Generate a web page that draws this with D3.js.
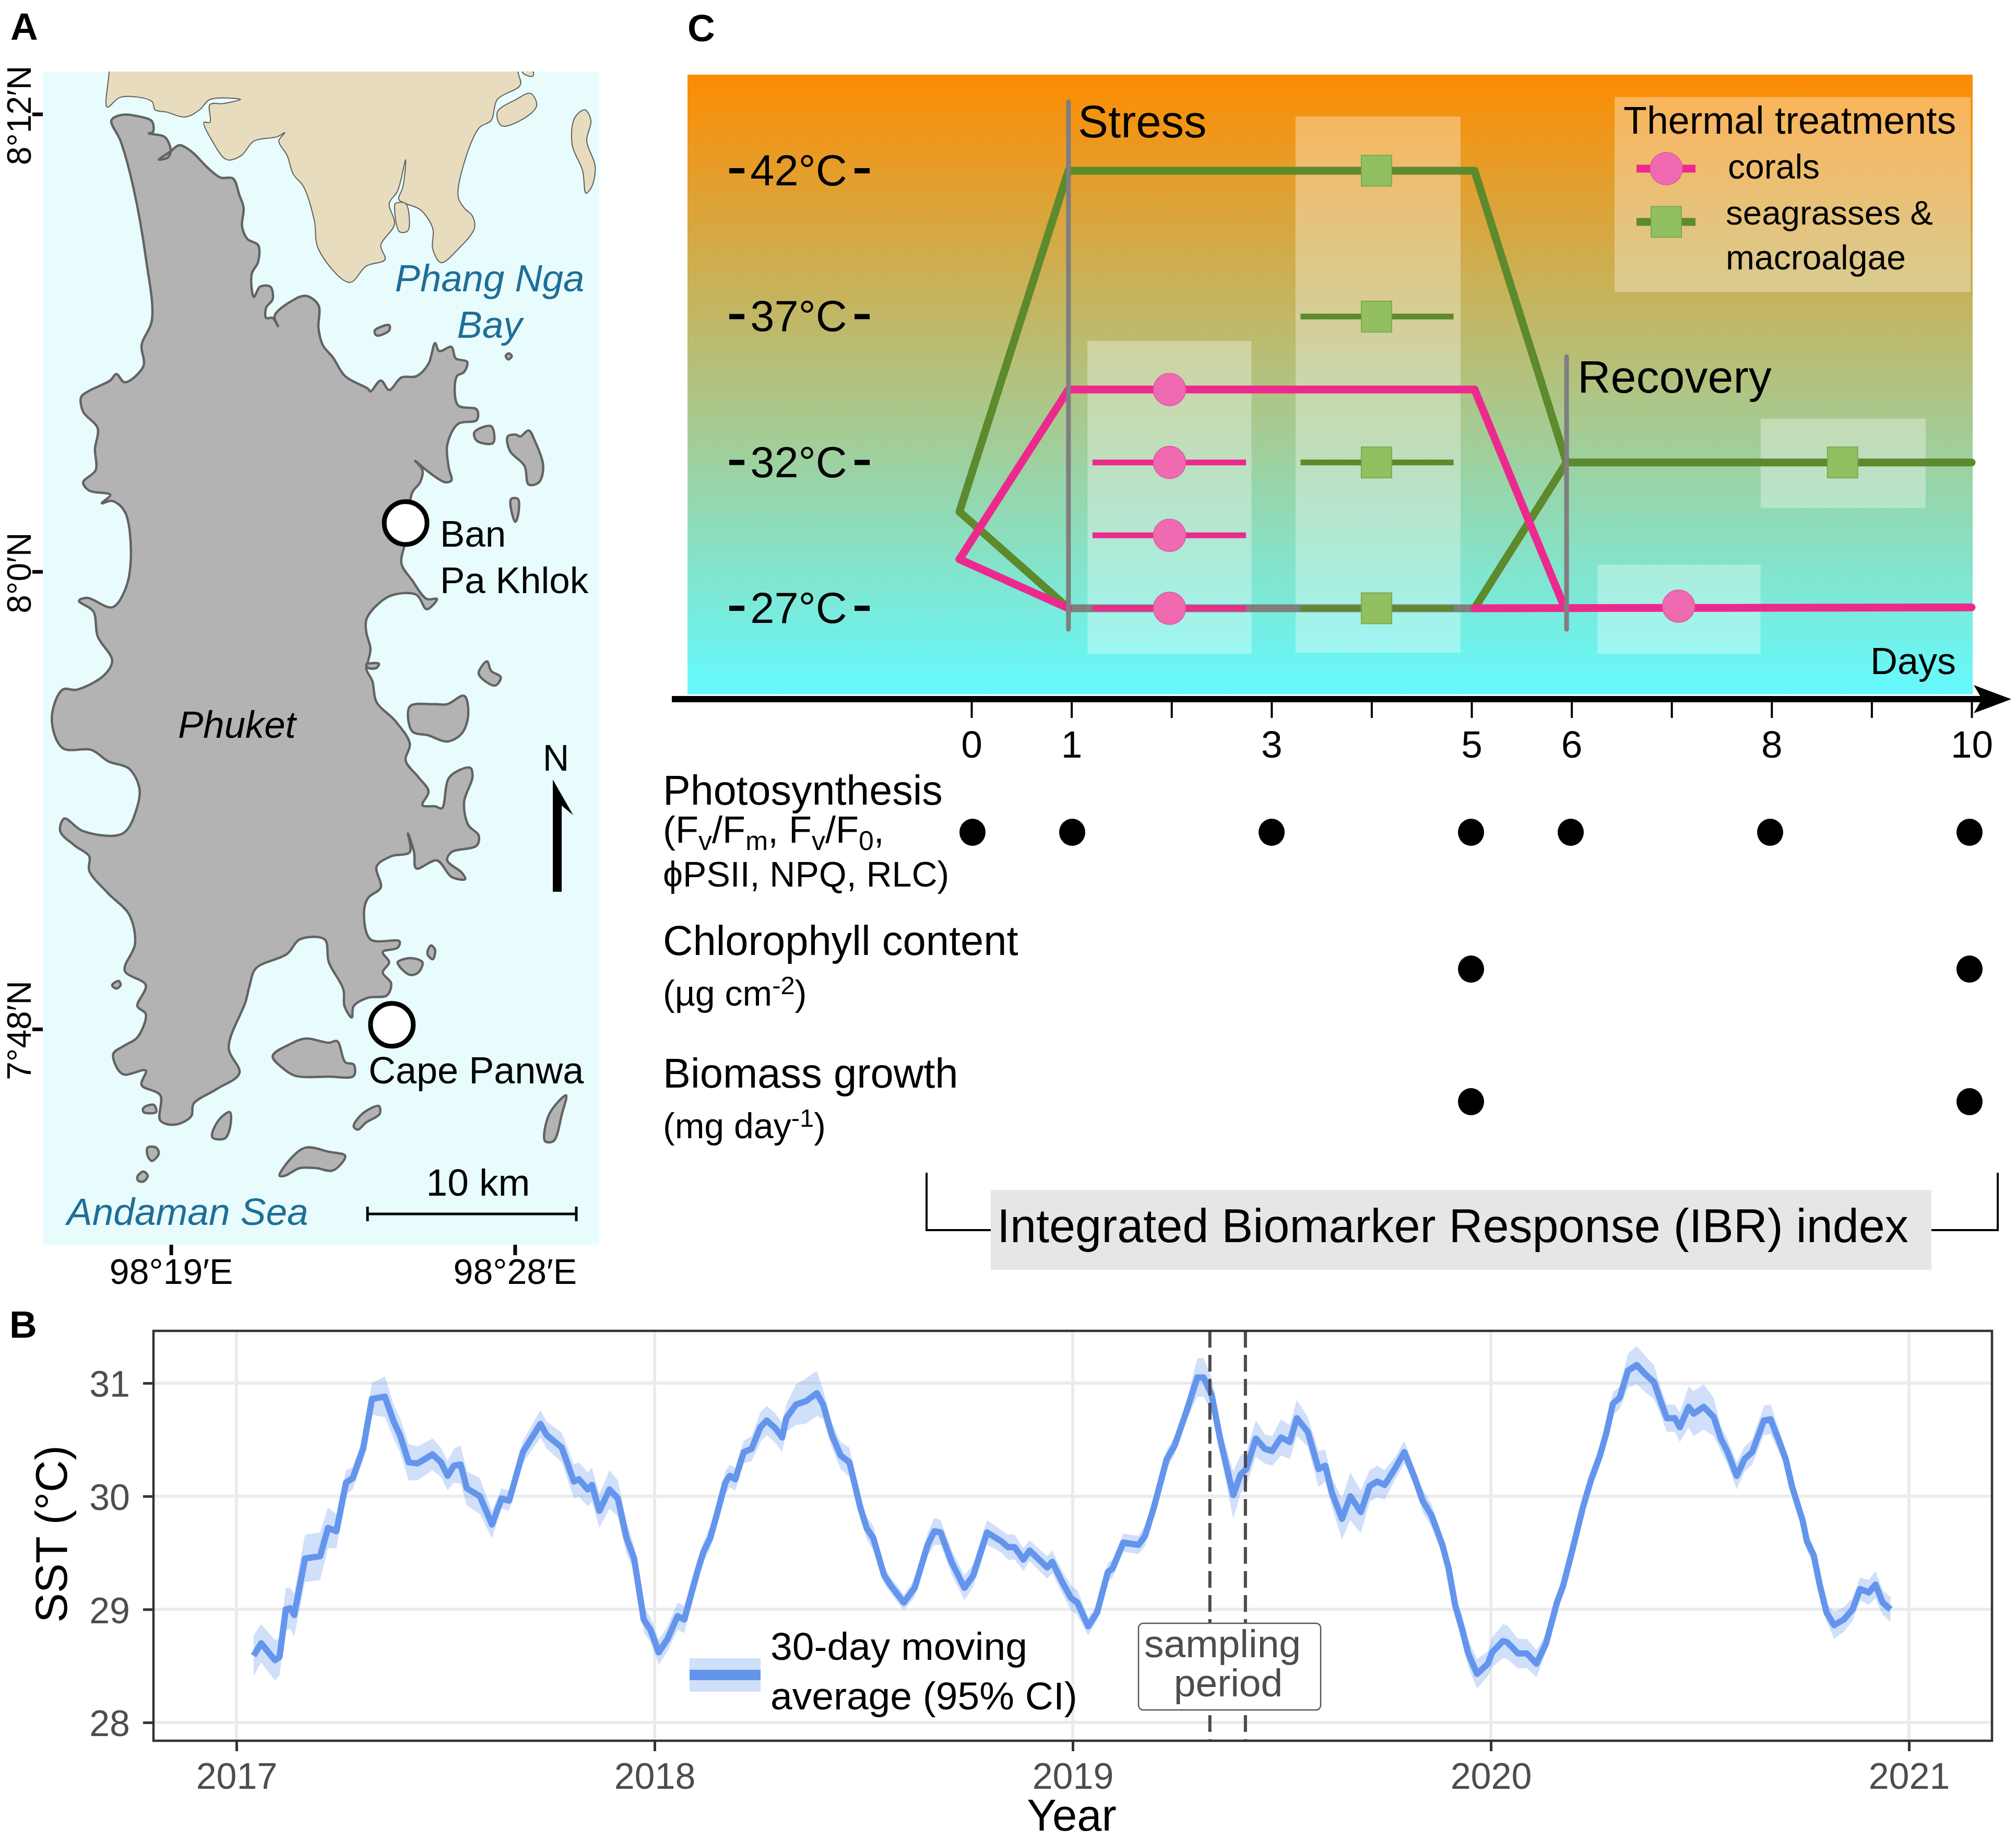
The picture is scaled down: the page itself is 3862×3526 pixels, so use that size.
<!DOCTYPE html>
<html><head><meta charset="utf-8">
<script src="https://cdn.jsdelivr.net/npm/d3@7"></script>
<style>
html,body{margin:0;padding:0;background:#fff}
svg{display:block}
text{font-family:"Liberation Sans",Arial,sans-serif}
</style></head><body>
<svg id="fig" width="3862" height="3526" xmlns="http://www.w3.org/2000/svg"></svg>
<script>
// ---------- Panel A: coastlines, longitude minutes past 98°, latitude minutes relative to 8°00'
const phuketCoast = [[17.44,11.84],[17.68,11.98],[18.23,11.93],[18.50,11.82],[18.53,11.54],[18.42,11.50],[18.83,11.41],[18.99,11.08],[18.93,10.88],[18.68,10.81],[18.99,11.03],[19.21,11.19],[19.53,11.03],[19.97,10.59],[20.30,10.34],[20.62,10.32],[20.79,9.88],[20.90,9.55],[20.86,9.06],[21.00,8.73],[21.28,8.57],[21.28,8.13],[21.11,7.81],[21.17,7.21],[21.33,7.48],[21.60,7.48],[21.66,7.15],[21.49,6.93],[21.49,6.66],[21.66,6.66],[21.80,6.44],[21.71,6.71],[22.15,7.10],[22.53,7.24],[22.86,6.99],[22.86,6.39],[22.97,5.95],[23.24,5.62],[23.56,5.13],[24.16,4.80],[24.22,4.73],[24.49,5.02],[24.71,4.77],[25.03,5.10],[25.42,5.13],[25.74,5.46],[25.91,6.00],[26.02,5.79],[26.34,5.90],[26.45,5.60],[26.75,5.51],[26.67,5.24],[26.48,5.13],[26.51,4.37],[27.00,4.26],[27.00,3.98],[26.51,3.88],[26.23,3.33],[26.27,2.73],[26.34,2.40],[26.18,2.35],[25.74,2.62],[25.39,2.91],[25.58,2.67],[25.52,2.35],[25.31,2.07],[25.14,0.82],[25.03,0.22],[25.31,-0.22],[25.69,-0.71],[25.96,-0.71],[25.69,-0.98],[25.42,-0.60],[24.76,-0.62],[24.33,-0.93],[24.11,-1.26],[24.11,-1.58],[24.22,-2.02],[24.16,-2.33],[24.11,-2.54],[24.27,-2.87],[24.38,-3.42],[24.87,-3.91],[25.25,-4.51],[25.14,-4.95],[25.47,-5.38],[25.74,-5.76],[25.58,-6.12],[25.91,-6.15],[26.09,-6.20],[26.29,-5.38],[26.83,-5.14],[26.89,-5.38],[26.67,-6.04],[26.78,-6.64],[27.05,-6.91],[27.00,-7.18],[26.34,-7.35],[26.23,-7.57],[26.61,-7.89],[26.70,-8.06],[26.34,-8.00],[25.96,-7.57],[25.42,-7.78],[25.36,-7.35],[25.20,-6.86],[25.25,-7.35],[24.76,-7.46],[24.38,-7.73],[24.49,-8.28],[24.16,-8.55],[24.05,-8.93],[24.22,-9.64],[24.98,-9.69],[24.93,-9.86],[24.54,-9.97],[24.71,-10.24],[24.54,-10.51],[24.76,-10.79],[24.65,-11.11],[24.16,-11.17],[23.78,-11.39],[23.73,-11.69],[23.54,-11.39],[23.51,-10.95],[23.13,-10.24],[23.02,-9.64],[22.37,-9.64],[22.04,-10.02],[21.22,-10.40],[21.06,-10.84],[20.95,-11.28],[20.51,-12.48],[20.79,-13.15],[20.19,-13.57],[19.59,-13.95],[19.53,-14.28],[19.10,-14.50],[18.72,-14.39],[18.72,-13.73],[18.23,-13.46],[18.34,-13.08],[17.79,-13.19],[17.63,-13.08],[17.49,-12.64],[17.79,-12.42],[18.12,-12.21],[18.34,-11.60],[18.12,-11.39],[18.34,-10.84],[17.79,-10.46],[18.06,-9.75],[17.90,-8.98],[17.36,-8.44],[16.86,-7.84],[16.86,-7.46],[16.48,-7.18],[16.10,-6.80],[16.21,-6.47],[16.70,-6.80],[17.74,-6.86],[18.12,-6.15],[18.17,-5.66],[17.90,-5.16],[17.36,-4.97],[16.92,-4.67],[16.16,-4.62],[15.88,-3.85],[16.16,-3.09],[16.54,-3.09],[17.25,-2.71],[17.46,-2.33],[17.08,-1.69],[16.97,-1.04],[16.59,-0.76],[16.81,-0.68],[17.46,-0.93],[17.79,-0.49],[17.95,0.38],[17.79,1.58],[17.46,1.86],[17.19,1.80],[17.41,2.02],[16.86,2.13],[16.70,2.35],[17.03,2.67],[17.01,3.22],[17.08,3.77],[16.70,4.20],[16.65,4.59],[16.86,4.75],[17.41,5.02],[17.57,5.19],[17.79,4.97],[18.28,5.40],[18.23,5.95],[18.50,6.60],[18.34,8.24],[18.01,10.10],[17.68,11.30]];
const mainlandCoast = [[17.38,14.20],[17.38,13.13],[17.33,12.19],[17.68,12.45],[18.50,12.34],[18.58,12.12],[18.88,12.06],[19.37,11.93],[19.75,12.12],[20.02,12.39],[20.82,12.39],[20.35,12.28],[20.02,12.26],[20.02,11.79],[19.86,11.79],[20.08,11.30],[20.46,10.81],[20.84,10.92],[21.17,11.30],[21.77,11.41],[21.98,11.52],[21.82,11.30],[22.04,10.92],[22.20,10.43],[22.47,10.10],[22.75,9.22],[22.86,8.46],[23.67,7.59],[24.11,8.02],[24.60,8.19],[24.49,8.57],[24.85,9.12],[24.71,9.66],[24.93,9.99],[25.14,10.81],[25.07,10.10],[24.96,9.77],[25.14,9.66],[25.52,9.50],[25.85,9.01],[25.85,8.46],[26.07,8.11],[26.51,8.46],[26.94,9.01],[26.89,9.33],[26.67,9.55],[26.51,9.88],[27.05,11.63],[27.38,11.84],[27.54,12.39],[28.14,12.77],[28.08,13.13],[28.08,14.20]];
const sandIslands = [
 [[24.87,9.66],[25.14,9.66],[25.20,8.95],[24.98,8.92],[24.85,9.55]],
 [[27.54,12.06],[28.03,12.39],[28.41,12.55],[28.57,12.23],[28.25,11.90],[27.65,11.70]],
 [[28.19,13.13],[28.47,13.13],[28.47,13.00],[28.25,13.05]],
 [[29.56,11.90],[29.83,12.12],[29.99,11.84],[29.88,11.30],[30.10,10.64],[30.01,10.10],[29.86,9.93],[29.77,10.53],[29.50,11.19]]
];
const greyIslands = [
 [[24.33,6.33],[24.71,6.47],[24.71,6.33],[24.38,6.20]],
 [[27.76,5.66],[27.83,5.73],[27.92,5.66],[27.83,5.57]],
 [[26.94,3.66],[27.38,3.82],[27.43,3.38],[27.00,3.44]],
 [[27.81,3.55],[28.03,3.60],[28.14,3.55],[28.36,3.71],[28.52,3.44],[28.74,2.78],[28.63,2.35],[28.36,2.29],[28.25,2.78],[27.87,3.17]],
 [[27.90,1.91],[28.08,1.91],[28.08,1.47],[28.01,1.31],[27.90,1.64]],
 [[24.11,-2.43],[24.44,-2.41],[24.38,-2.52],[24.16,-2.52]],
 [[27.05,-2.65],[27.27,-2.35],[27.38,-2.60],[27.63,-2.76],[27.49,-2.98],[27.16,-2.82]],
 [[25.25,-3.53],[25.85,-3.47],[26.23,-3.47],[26.67,-3.25],[26.78,-3.74],[26.61,-4.24],[26.23,-4.45],[25.74,-4.29],[25.31,-4.18]],
 [[24.93,-10.24],[25.25,-10.13],[25.58,-10.24],[25.47,-10.51],[25.25,-10.57],[24.98,-10.35]],
 [[25.80,-9.80],[25.91,-9.91],[25.85,-10.16],[25.71,-10.02]],
 [[17.46,-10.84],[17.63,-10.73],[17.68,-10.84],[17.57,-10.93]],
 [[21.66,-12.70],[22.15,-12.37],[22.53,-12.24],[23.13,-12.35],[23.35,-12.31],[23.56,-12.86],[23.78,-12.92],[23.78,-13.22],[23.13,-13.24],[22.26,-13.22],[21.93,-13.02]],
 [[18.28,-14.06],[18.55,-13.98],[18.61,-14.17],[18.28,-14.17]],
 [[20.08,-14.83],[20.24,-14.39],[20.54,-14.17],[20.55,-14.55],[20.41,-14.86]],
 [[23.78,-14.55],[24.00,-14.22],[24.44,-14.01],[24.46,-14.22],[24.11,-14.44],[23.89,-14.63]],
 [[28.79,-14.93],[28.90,-14.22],[29.34,-13.73],[29.23,-14.22],[29.01,-14.93]],
 [[18.39,-15.10],[18.61,-15.10],[18.68,-15.26],[18.50,-15.45],[18.39,-15.32]],
 [[18.12,-15.86],[18.28,-15.73],[18.39,-15.84],[18.28,-15.99],[18.14,-15.97]],
 [[21.84,-15.84],[22.15,-15.37],[22.53,-15.10],[23.13,-15.21],[23.56,-15.32],[23.24,-15.70],[22.80,-15.64],[22.37,-15.64],[21.98,-15.84]]
];
const sites = [["Ban Pa Khlok",25.14,1.28],["Cape Panwa",24.78,-11.88]];
const lonTicks = [19,28];
const lonTickLabels = ["98°19′E","98°28′E"];
const latTicks = [12,0,-12];
const latTickLabels = ["8°12′N","8°0′N","7°48′N"];

// ---------- Panel C
const dayLabels = [0,1,3,5,6,8,10];
const dayTicks = [0,1,2,3,4,5,6,7,8,9,10];
const tempLevels = [42,37,32,27];
const seaweedHigh = [[-0.12,30.31],[0.97,42],[5.03,42],[5.95,32],[10,32]];
const seaweedLow = [[-0.12,30.31],[0.97,27]];
const seaweedReturn = [[5.03,27],[5.95,32]];
const coralHigh = [[-0.12,28.68],[0.97,34.5],[5.03,34.5],[5.93,27.03]];
const coralLow = [[-0.12,28.68],[0.97,27]];
const coralReturn = [[5.03,27],[10,27.03]];
const controlLevel = [[0.97,27],[5.03,27]];
const coralTreatments = [34.5,32,29.5,27];
const coralShortLines = [32,29.5,27];
const seaweedTreatments = [42,37,32,27];
const seaweedShortLines = [37,32,27];
const paleBands = [[1.16,2.80,36.17,25.44],[3.24,4.89,43.86,25.48],[7.89,9.54,33.5,30.44],[6.26,7.89,28.49,25.44]];
const photosynthesisDays = [0,1,3,5,6,8,10];
const chlorophyllDays = [5,10];
const biomassDays = [5,10];

// ---------- Panel B: year, 30-day mean SST, half-width of the 95% CI
const sstRows = [
[2017.041,28.59,.18],[2017.059,28.70,.17],[2017.092,28.55,.18],[2017.103,28.58,.16],[2017.118,29.00,.19],[2017.128,29.01,.18],[2017.138,28.95,.19],[2017.164,29.45,.21],[2017.200,29.47,.21],[2017.219,29.72,.18],[2017.239,29.69,.15],[2017.262,30.12,.11],[2017.278,30.16,.10],[2017.303,30.42,.10],[2017.324,30.86,.14],[2017.355,30.88,.18],[2017.376,30.66,.15],[2017.391,30.54,.15],[2017.412,30.30,.16],[2017.433,30.29,.15],[2017.469,30.37,.14],[2017.489,30.30,.13],[2017.505,30.18,.13],[2017.520,30.27,.15],[2017.536,30.28,.17],[2017.551,30.07,.15],[2017.582,30.00,.16],[2017.611,29.75,.12],[2017.634,29.98,.09],[2017.652,29.96,.09],[2017.685,30.39,.10],[2017.727,30.64,.12],[2017.742,30.54,.12],[2017.778,30.43,.13],[2017.807,30.13,.15],[2017.819,30.15,.15],[2017.840,30.06,.15],[2017.850,30.10,.15],[2017.868,29.87,.15],[2017.892,30.06,.17],[2017.912,29.98,.16],[2017.933,29.63,.14],[2017.951,29.45,.11],[2017.974,28.91,.11],[2017.990,28.82,.11],[2018.010,28.62,.11],[2018.031,28.74,.11],[2018.055,28.94,.12],
[2018.071,28.91,.12],[2018.102,29.33,.10],[2018.117,29.51,.09],[2018.133,29.63,.10],[2018.149,29.84,.09],[2018.169,30.12,.10],[2018.180,30.18,.10],[2018.193,30.15,.10],[2018.213,30.39,.10],[2018.232,30.42,.11],[2018.253,30.61,.13],[2018.268,30.67,.13],[2018.289,30.60,.13],[2018.305,30.52,.13],[2018.315,30.69,.12],[2018.338,30.81,.18],[2018.362,30.84,.20],[2018.388,30.91,.20],[2018.403,30.81,.13],[2018.424,30.54,.11],[2018.445,30.36,.12],[2018.466,30.30,.13],[2018.492,29.90,.08],[2018.507,29.72,.10],[2018.523,29.63,.11],[2018.549,29.30,.07],[2018.565,29.21,.07],[2018.596,29.06,.07],[2018.622,29.19,.08],[2018.653,29.57,.10],[2018.669,29.69,.12],[2018.684,29.68,.11],[2018.710,29.42,.11],[2018.741,29.19,.11],[2018.762,29.30,.10],[2018.795,29.68,.11],[2018.830,29.60,.10],[2018.845,29.55,.11],[2018.861,29.55,.11],[2018.882,29.44,.10],[2018.897,29.52,.09],[2018.939,29.37,.10],[2018.951,29.42,.10],[2018.975,29.24,.10],[2018.996,29.10,.11],[2019.011,29.06,.11],[2019.037,28.85,.08],[2019.058,28.97,.07],[2019.084,29.33,.08],[2019.095,29.36,.08],[2019.121,29.59,.08],[2019.157,29.57,.08],[2019.173,29.65,.09],[2019.194,29.90,.08],[2019.225,30.33,.08],[2019.244,30.45,.08],[2019.272,30.75,.08],[2019.298,31.05,.17],[2019.313,31.05,.17],[2019.332,30.90,.15],[2019.354,30.48,.12],[2019.384,30.01,.21],[2019.401,30.19,.17],[2019.415,30.24,.15],[2019.438,30.51,.16],[2019.459,30.42,.13],[2019.477,30.40,.13],[2019.498,30.52,.16],[2019.519,30.48,.15],[2019.536,30.69,.16],[2019.562,30.57,.13],[2019.588,30.24,.16],[2019.604,30.27,.14],[2019.620,30.03,.13],
[2019.644,29.80,.18],[2019.664,30.00,.21],[2019.689,29.86,.19],[2019.710,30.09,.14],[2019.728,30.13,.14],[2019.746,30.10,.13],[2019.770,30.24,.10],[2019.793,30.39,.10],[2019.816,30.18,.08],[2019.837,29.96,.10],[2019.858,29.83,.10],[2019.884,29.57,.08],[2019.899,29.36,.08],[2019.915,29.03,.10],[2019.931,28.83,.12],[2019.946,28.61,.12],[2019.967,28.43,.13],[2019.993,28.52,.11],[2020.003,28.62,.13],[2020.029,28.72,.15],[2020.039,28.71,.15],[2020.065,28.61,.13],[2020.086,28.61,.13],[2020.109,28.52,.12],[2020.132,28.70,.08],[2020.158,29.06,.07],[2020.173,29.21,.07],[2020.194,29.51,.08],[2020.220,29.90,.08],[2020.240,30.15,.08],[2020.261,30.36,.09],[2020.277,30.57,.09],[2020.292,30.82,.10],[2020.308,30.87,.10],[2020.328,31.11,.15],[2020.349,31.16,.17],[2020.369,31.08,.16],[2020.390,31.01,.15],[2020.406,30.84,.12],[2020.421,30.69,.12],[2020.440,30.69,.12],[2020.452,30.61,.13],[2020.473,30.79,.18],[2020.485,30.73,.20],[2020.509,30.79,.20],[2020.533,30.70,.17],[2020.550,30.51,.11],[2020.565,30.40,.11],[2020.588,30.18,.12],[2020.607,30.33,.11],[2020.625,30.39,.11],[2020.653,30.67,.13],[2020.669,30.68,.13],[2020.689,30.49,.10],[2020.705,30.33,.08],[2020.720,30.09,.08],[2020.746,29.78,.08],[2020.756,29.60,.08],[2020.772,29.48,.08],[2020.787,29.21,.08],[2020.803,28.97,.08],[2020.821,28.86,.12],[2020.844,28.91,.11],[2020.865,29.00,.10],[2020.883,29.18,.10],[2020.904,29.15,.11],[2020.920,29.22,.12],[2020.937,29.06,.11],[2020.956,29.00,.11]
];
const yearTicks = [2017,2018,2019,2020,2021];
const sstTicks = [28,29,30,31];
const samplingPeriod = [2019.328,2019.413];

// ---------- colours
const WATER="#e8fcfe", PHUKET="#b3b3b3", SAND="#e8dcbe", SEA_TEXT="#1f6e97";
const PINK="#ec2a8e", PINK_FILL="#ef6ab0", GREEN="#5c8a2c", GREEN_FILL="#92bf5f", SST="#6495ed";

const svg = d3.select("#fig");
const defs = svg.append("defs");

function label(g,txt,x,y,size,opt={}){
  return g.append("text").attr("x",x).attr("y",y).attr("font-size",size)
    .attr("fill",opt.fill||"#000").attr("font-style",opt.italic?"italic":null)
    .attr("font-weight",opt.bold?"bold":null).attr("text-anchor",opt.anchor||"start").text(txt);
}
function rich(g,parts,x,y,size){
  const t=g.append("text").attr("x",x).attr("y",y).attr("font-size",size).attr("fill","#000");
  let prev=0;
  parts.forEach(([s,k])=>{
    const off = k==="sub"? size*0.2 : k==="sup"? -size*0.33 : 0;
    t.append("tspan").attr("dy",off-prev).attr("font-size",k?size*0.72:size).text(s);
    prev=off;
  });
  return t;
}

// ================= Panel A =================
const mapBox={l:82,r:1148,t:137,b:2384};
const lonS=d3.scaleLinear().domain([19,28]).range([327.6,986.4]);
const latS=d3.scaleLinear().domain([-12,12]).range([1971.5,219]);
const coast=d3.line().x(d=>lonS(d[0])).y(d=>latS(d[1])).curve(d3.curveCatmullRomClosed.alpha(0.5));
defs.append("clipPath").attr("id","mapclip").append("rect")
  .attr("x",mapBox.l).attr("y",mapBox.t).attr("width",mapBox.r-mapBox.l).attr("height",mapBox.b-mapBox.t);
const A=svg.append("g");
A.append("rect").attr("x",mapBox.l).attr("y",mapBox.t).attr("width",mapBox.r-mapBox.l).attr("height",mapBox.b-mapBox.t).attr("fill",WATER);
const mapG=A.append("g").attr("clip-path","url(#mapclip)");
mapG.selectAll("path.sand").data([mainlandCoast,...sandIslands]).join("path").attr("class","sand")
  .attr("d",coast).attr("fill",SAND).attr("stroke","#5f5f5f").attr("stroke-width",2).attr("stroke-linejoin","round");
mapG.selectAll("path.grey").data([phuketCoast,...greyIslands]).join("path").attr("class","grey")
  .attr("d",coast).attr("fill",PHUKET).attr("stroke","#636363").attr("stroke-width",4.5).attr("stroke-linejoin","round");
const lonAxis=d3.axisBottom(lonS).tickValues(lonTicks).tickFormat((d,i)=>lonTickLabels[i]).tickSize(20).tickPadding(7);
const lonG=A.append("g").attr("transform",`translate(0,${mapBox.b})`).call(lonAxis);
lonG.select(".domain").remove();
lonG.selectAll(".tick line").attr("stroke","#000").attr("stroke-width",7);
lonG.selectAll(".tick text").attr("font-size",68).attr("fill","#000").attr("font-family","Liberation Sans");
A.selectAll("rect.lat").data(latTicks).join("rect").attr("class","lat")
  .attr("x",62).attr("width",20).attr("y",d=>latS(d)-3.5).attr("height",7).attr("fill","#000");
A.selectAll("text.lat").data(latTicks).join("text").attr("class","lat")
  .attr("transform",d=>`translate(59,${latS(d)+2}) rotate(-90)`).attr("text-anchor","middle")
  .attr("font-size",64).attr("fill","#000").text((d,i)=>latTickLabels[i]);
A.selectAll("circle.site").data(sites).join("circle").attr("class","site")
  .attr("cx",d=>lonS(d[1])).attr("cy",d=>latS(d[2])).attr("r",41).attr("fill","#fff").attr("stroke","#000").attr("stroke-width",9);
label(A,"Ban",843,1047,71); label(A,"Pa Khlok",843,1136,71); label(A,"Cape Panwa",706,2075,72);
label(A,"Phang Nga",938,558,72.5,{italic:1,fill:SEA_TEXT,anchor:"middle"});
label(A,"Bay",938,647,72.5,{italic:1,fill:SEA_TEXT,anchor:"middle"});
label(A,"Phuket",341,1413,72.5,{italic:1});
label(A,"Andaman Sea",128,2346,73,{italic:1,fill:SEA_TEXT});
label(A,"10 km",916,2290,73,{anchor:"middle"});
A.append("path").attr("d","M704 2311V2339M704 2325H1104M1104 2311V2339").attr("stroke","#000").attr("stroke-width",5).attr("fill","none");
label(A,"N",1065,1476,70,{anchor:"middle"});
A.append("path").attr("d","M1059 1708V1493L1098 1561L1076 1543V1708Z").attr("fill","#000");
label(svg,"A",20,76,73,{bold:1});

// ================= Panel C =================
const dayS=d3.scaleLinear().domain([0,10]).range([1861,3777]);
const dotS=d3.scaleLinear().domain([0,10]).range([1863,3773]);
const tempS=d3.scaleLinear().domain([27,42]).range([1165,327]);
const grad=defs.append("linearGradient").attr("id","heat").attr("x1",0).attr("x2",0).attr("y1",0).attr("y2",1);
grad.append("stop").attr("offset",0).attr("stop-color","#fd8c02");
grad.append("stop").attr("offset",1).attr("stop-color","#64faff");
const C=svg.append("g");
C.append("rect").attr("x",1317).attr("y",143).attr("width",2462).attr("height",1187).attr("fill","url(#heat)");
C.selectAll("rect.band").data(paleBands).join("rect").attr("class","band")
  .attr("x",d=>dayS(d[0])).attr("width",d=>dayS(d[1])-dayS(d[0]))
  .attr("y",d=>tempS(d[2])).attr("height",d=>tempS(d[3])-tempS(d[2]))
  .attr("fill","#fff").attr("fill-opacity",.33);
C.append("rect").attr("x",3093).attr("y",186).attr("width",682).attr("height",373).attr("fill","#fff").attr("fill-opacity",.33);
const tLine=d3.line().x(d=>dayS(d[0])).y(d=>tempS(d[1]));
const thick=(data,col,w=15)=>C.append("path").attr("d",tLine(data)).attr("fill","none").attr("stroke",col).attr("stroke-width",w).attr("stroke-linejoin","round").attr("stroke-linecap","round");
thick(controlLevel,"#7f7f7f");
thick(seaweedHigh,GREEN); thick(seaweedLow,GREEN); thick(seaweedReturn,GREEN);
thick(coralHigh,PINK); thick(coralLow,PINK); thick(coralReturn,PINK);
C.selectAll("line.stage").data([[0.97,195],[5.95,683]]).join("line").attr("class","stage")
  .attr("x1",d=>dayS(d[0])).attr("x2",d=>dayS(d[0])).attr("y1",d=>d[1]).attr("y2",1205)
  .attr("stroke","#7f7f7f").attr("stroke-width",9).attr("stroke-linecap","round");
C.selectAll("line.cs").data(coralShortLines).join("line").attr("class","cs")
  .attr("x1",dayS(1.21)).attr("x2",dayS(2.745)).attr("y1",d=>tempS(d)).attr("y2",d=>tempS(d)).attr("stroke",PINK).attr("stroke-width",11);
C.selectAll("line.ss").data(seaweedShortLines).join("line").attr("class","ss")
  .attr("x1",dayS(3.29)).attr("x2",dayS(4.82)).attr("y1",d=>tempS(d)).attr("y2",d=>tempS(d)).attr("stroke",GREEN).attr("stroke-width",11);
const coralPt=(g,x,y)=>g.append("circle").attr("cx",x).attr("cy",y).attr("r",31).attr("fill",PINK_FILL).attr("stroke","#e0559f").attr("stroke-width",1.5);
const weedPt=(g,x,y)=>g.append("rect").attr("x",x-29).attr("y",y-29.5).attr("width",58).attr("height",59).attr("fill",GREEN_FILL).attr("stroke","#7ea955").attr("stroke-width",2);
coralTreatments.forEach(t=>coralPt(C,dayS(1.98),tempS(t)));
seaweedTreatments.forEach(t=>weedPt(C,dayS(4.05),tempS(t)));
weedPt(C,dayS(8.71),tempS(32)); coralPt(C,dayS(7.07),tempS(27.07));
tempLevels.forEach(t=>{
  label(C,t+"°C",1530,tempS(t)+28,83,{anchor:"middle"});
  [1397,1637].forEach(x=>C.append("rect").attr("x",x).attr("width",29).attr("y",tempS(t)-5).attr("height",10).attr("fill","#000"));
});
label(C,"Stress",2065,263,87); label(C,"Recovery",3022,752,88);
label(C,"Thermal treatments",3110,256,73.5);
C.append("line").attr("x1",3135).attr("x2",3248).attr("y1",323).attr("y2",323).attr("stroke",PINK).attr("stroke-width",15);
coralPt(C,3192,323);
C.append("line").attr("x1",3135).attr("x2",3248).attr("y1",425).attr("y2",425).attr("stroke",GREEN).attr("stroke-width",15);
weedPt(C,3192,425);
label(C,"corals",3310,342,66); label(C,"seagrasses &",3306,430,65.5); label(C,"macroalgae",3306,516,66);
label(C,"Days",3747,1291,72,{anchor:"end"});
C.append("rect").attr("x",1287).attr("y",1333).attr("width",2510).attr("height",12).attr("fill","#000");
C.append("path").attr("d","M3781 1312L3853 1339L3781 1366L3797 1339Z").attr("fill","#000");
const dayAxis=d3.axisBottom(dayS).tickValues(dayTicks).tickFormat(d=>dayLabels.includes(d)?d:"").tickSize(36).tickPadding(24);
const dayG=C.append("g").attr("transform","translate(0,1339)").call(dayAxis);
dayG.select(".domain").remove();
dayG.selectAll(".tick line").attr("stroke","#000").attr("stroke-width",4);
dayG.selectAll(".tick text").attr("font-size",73).attr("fill","#000").attr("font-family","Liberation Sans");
label(C,"Photosynthesis",1270,1541,79);
rich(C,[["(F"],["v","sub"],["/F"],["m","sub"],[", F"],["v","sub"],["/F"],["0","sub"],[","]],1270,1614,72);
label(C,"ϕPSII, NPQ, RLC)",1270,1698,68);
label(C,"Chlorophyll content",1270,1829,79.5);
rich(C,[["(µg cm"],["-2","sup"],[")"]],1270,1926,68);
label(C,"Biomass growth",1270,2083,79.5);
rich(C,[["(mg day"],["-1","sup"],[")"]],1270,2180,68);
[[photosynthesisDays,1594],[chlorophyllDays,1856],[biomassDays,2110]].forEach(([days,y])=>{
  C.selectAll(null).data(days).join("ellipse").attr("cx",d=>dotS(d)).attr("cy",y).attr("rx",25).attr("ry",26).attr("fill","#000");
});
C.append("rect").attr("x",1898).attr("y",2279).attr("width",1802).attr("height",153).attr("fill","#e6e6e6");
C.append("path").attr("d","M1775 2246V2356H1898M3827 2246V2356H3700").attr("fill","none").attr("stroke","#000").attr("stroke-width",4);
label(C,"Integrated Biomarker Response (IBR) index",1910,2379,90);
label(svg,"C",1317,79,73,{bold:1});

// ================= Panel B =================
const frame={l:294,r:3816,t:2549,b:3334};
const xS=d3.scaleLinear().domain([2017,2021]).range([453,3657]);
const yS=d3.scaleLinear().domain([28,31]).range([3299,2649]);
const B=svg.append("g");
B.append("rect").attr("x",frame.l).attr("y",frame.t).attr("width",frame.r-frame.l).attr("height",frame.b-frame.t).attr("fill","#fff");
B.selectAll("line.gx").data(yearTicks).join("line").attr("class","gx").attr("x1",d=>xS(d)).attr("x2",d=>xS(d)).attr("y1",frame.t).attr("y2",frame.b).attr("stroke","#ebebeb").attr("stroke-width",6);
B.selectAll("line.gy").data(sstTicks).join("line").attr("class","gy").attr("y1",d=>yS(d)).attr("y2",d=>yS(d)).attr("x1",frame.l).attr("x2",frame.r).attr("stroke","#ebebeb").attr("stroke-width",6);
B.append("path").datum(sstRows).attr("d",d3.area().x(d=>xS(d[0])).y0(d=>yS(d[1]-d[2])).y1(d=>yS(d[1]+d[2]))).attr("fill",SST).attr("fill-opacity",.3);
B.append("path").datum(sstRows).attr("d",d3.line().x(d=>xS(d[0])).y(d=>yS(d[1]))).attr("fill","none").attr("stroke",SST).attr("stroke-width",12).attr("stroke-linejoin","round");
B.selectAll("line.samp").data(samplingPeriod).join("line").attr("class","samp").attr("x1",d=>xS(d)).attr("x2",d=>xS(d)).attr("y1",frame.t).attr("y2",frame.b).attr("stroke","#4a4a4a").attr("stroke-width",6).attr("stroke-dasharray","32 14");
B.append("rect").attr("x",2181).attr("y",3109).attr("width",349).attr("height",166).attr("rx",9).attr("fill","#fff").attr("stroke","#555").attr("stroke-width",2.5);
label(B,"sampling",2342,3174,75,{anchor:"middle",fill:"#4d4d4d"});
label(B,"period",2353,3249,75,{anchor:"middle",fill:"#4d4d4d"});
B.append("rect").attr("x",1321).attr("y",3176).attr("width",136).attr("height",64).attr("fill",SST).attr("fill-opacity",.3);
B.append("rect").attr("x",1321).attr("y",3198).attr("width",136).attr("height",20).attr("fill",SST);
label(B,"30-day moving",1476,3179,75); label(B,"average (95% CI)",1476,3274,75);
B.append("rect").attr("x",frame.l).attr("y",frame.t).attr("width",frame.r-frame.l).attr("height",frame.b-frame.t).attr("fill","none").attr("stroke","#333").attr("stroke-width",4.5);
const xAx=d3.axisBottom(xS).tickValues(yearTicks).tickFormat(d3.format("d")).tickSize(20).tickPadding(22);
const xG=B.append("g").attr("transform",`translate(0,${frame.b})`).call(xAx);
const yAx=d3.axisLeft(yS).tickValues(sstTicks).tickFormat(d3.format("d")).tickSize(20).tickPadding(25);
const yG=B.append("g").attr("transform",`translate(${frame.l},0)`).call(yAx);
[xG,yG].forEach(g=>{
  g.select(".domain").remove();
  g.selectAll(".tick line").attr("stroke","#333").attr("stroke-width",5);
  g.selectAll(".tick text").attr("font-size",70).attr("fill","#4d4d4d").attr("font-family","Liberation Sans");
});
yG.selectAll(".tick text").attr("dy",".37em");
label(B,"Year",2053,3506,85,{anchor:"middle"});
B.append("text").attr("transform","translate(128,2938) rotate(-90)").attr("text-anchor","middle").attr("font-size",85).attr("fill","#000").text("SST (°C)");
label(svg,"B",18,2562,73,{bold:1});
</script>
</body></html>
